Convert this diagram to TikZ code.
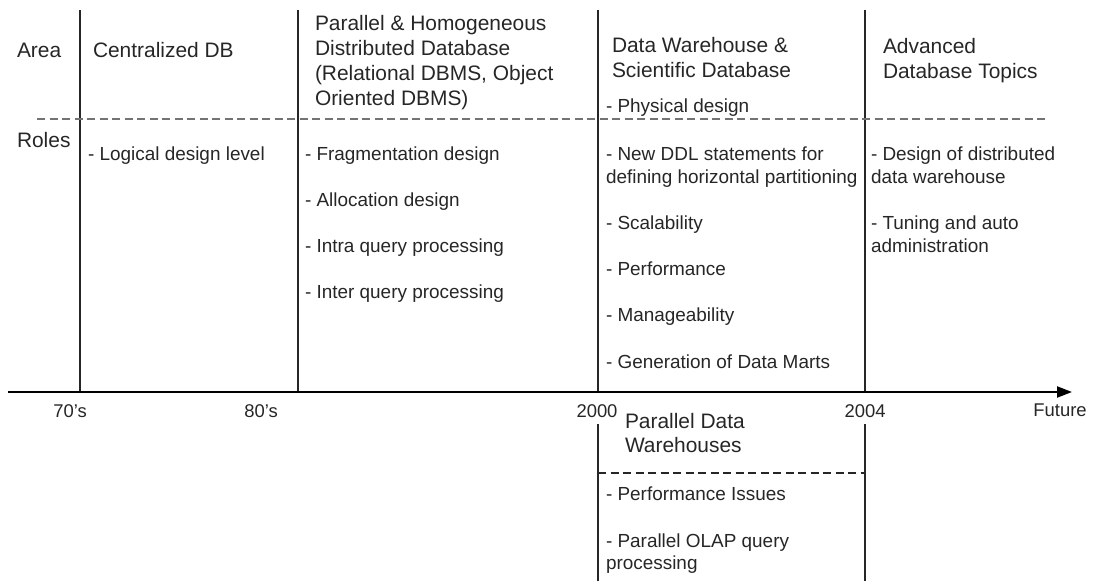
\documentclass[tikz,border=0pt]{standalone}
\usepackage{fontspec}
\setmainfont{Liberation Sans}
\usetikzlibrary{arrows.meta}
\newcommand{\lines}[1]{\begin{tabular}[t]{@{}l@{}}#1\end{tabular}}
\begin{document}
\begin{tikzpicture}[x=1bp,y=-1bp,
  txt/.style={inner sep=0,outer sep=0,anchor=base west,text=black!85},
  head/.style={txt,font=\fontsize{21}{25}\selectfont},
  item/.style={txt,font=\fontsize{19}{23}\selectfont},
  tick/.style={inner sep=0,outer sep=0,anchor=base,text=black!85,font=\fontsize{18.5}{22}\selectfont},
  era/.style={line width=1.3bp,black!85},
  sep/.style={line width=1.5bp,dash pattern=on 8bp off 4.5bp},
  axis/.style={line width=2.2bp,-{Triangle[length=15bp,width=11bp]}}]
\useasboundingbox (0,0) rectangle (1094,581);

% time axis and its ticks
\coordinate (ax0) at (8,392);
\coordinate (ax1) at (1072,392);
\coordinate (t70top) at (80,10);   \coordinate (t70) at (80,392);
\coordinate (t80top) at (298,10);  \coordinate (t80) at (298,392);
\coordinate (t00top) at (598,10);  \coordinate (t00) at (598,392);
\coordinate (t04top) at (865,10);  \coordinate (t04) at (865,392);
\coordinate (b00top) at (598,424); \coordinate (b00) at (598,581);
\coordinate (b04top) at (865,424); \coordinate (b04) at (865,581);

\draw[era] (t70top) -- (t70);
\draw[era] (t80top) -- (t80);
\draw[era] (t00top) -- (t00);
\draw[era] (t04top) -- (t04);
\draw[era] (b00top) -- (b00);
\draw[era] (b04top) -- (b04);
\draw[axis] (ax0) -- (ax1);

% area / roles separators
\coordinate (sepL) at (37,119);
\coordinate (sepR) at (1045,119);
\draw[sep,black!55] (sepL) -- (sepR);
\coordinate (bsepL) at (598,473);
\coordinate (bsepR) at (865,473);
\draw[sep,black!85,line width=1.3bp] (bsepL) -- (bsepR);

% row headers
\node[head] (area) at (17,58) {Area};
\node[head] (roles) at (17,148) {Roles};

% 70's
\node[head] (cdb) at (93,58) {Centralized DB};
\node[item] (logic) at (88,161) {- Logical design level};

% 80's
\node[head] (pdb) at (315,31) {\lines{Parallel \& Homogeneous\\Distributed Database\\(Relational DBMS, Object\\Oriented DBMS)}};
\node[item] (frag) at (305,161) {- Fragmentation design};
\node[item] (alloc) at (305,207) {- Allocation design};
\node[item] (intra) at (305,253) {- Intra query processing};
\node[item] (inter) at (305,299) {- Inter query processing};

% 2000
\node[head] (dw) at (612,53) {\lines{Data Warehouse \&\\Scientific Database}};
\node[item] (phys) at (606,113) {- Physical design};
\node[item] (ddl) at (606,161) {\lines{- New DDL statements for\\defining horizontal partitioning}};
\node[item] (scal) at (606,230) {- Scalability};
\node[item] (perf) at (606,276) {- Performance};
\node[item] (manag) at (606,322) {- Manageability};
\node[item] (marts) at (606,368) {- Generation of Data Marts};

% 2004
\node[head] (adv) at (883,54) {\lines{Advanced\\Database Topics}};
\node[item] (ddw) at (871,161) {\lines{- Design of distributed\\data warehouse}};
\node[item] (tune) at (871,230) {\lines{- Tuning and auto\\administration}};

% tick labels
\node[tick] (l70) at (70,417) {70's};
\node[tick] (l80) at (261,417) {80's};
\node[tick] (l00) at (597,417) {2000};
\node[tick] (l04) at (865,417) {2004};
\node[tick] (lfut) at (1060,416) {Future};

% parallel data warehouses
\node[head] (pdw) at (625,428) {\lines{Parallel Data\\Warehouses}};
\node[item] (pissue) at (606,500) {- Performance Issues};
\node[item] (olap) at (606,547) {\lines{- Parallel OLAP query\\processing}};
\end{tikzpicture}
\end{document}
